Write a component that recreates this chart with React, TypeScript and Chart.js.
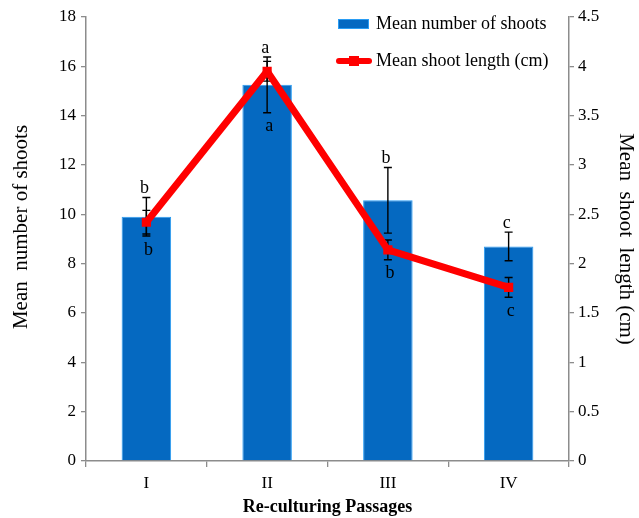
import React, { useEffect, useRef } from 'react';
import { Chart, registerables } from 'chart.js';

Chart.register(...registerables);

const categories = ['I', 'II', 'III', 'IV'];
const meanShoots = [9.9, 15.25, 10.57, 8.7];
const shootsError = [0.78, 1.13, 1.33, 0.58];
const shootsLetters = ['b', 'a', 'b', 'c'];
const meanLength = [2.42, 3.95, 2.14, 1.76];
const lengthError = [0.12, 0.1, 0.1, 0.1];
const lengthLetters = ['b', 'a', 'b', 'c'];
const shootsLabel = 'Mean number of shoots';
const lengthLabel = 'Mean shoot length (cm)';
const leftTitle = 'Mean  number of shoots';
const rightTitle = 'Mean  shoot  length (cm)';
const xTitle = 'Re-culturing Passages';

const SERIF = '"Liberation Serif", "Times New Roman", "DejaVu Serif", serif';
const BAR_FILL = '#0569c1';
const BAR_BORDER = '#2a9df4';
const LINE_RED = '#ff0000';
const AXIS_GREY = '#8c8c8c';

const errorBarPlugin = {
  id: 'errorBars',
  afterDatasetDraw(chart: any, args: any) {
    if (args.index !== 0) return;
    const { ctx } = chart;
    const xs = chart.scales.x;
    const yl = chart.scales.y;
    const yr = chart.scales.y1;
    const cap = 4;
    const drawErr = (cx: number, yTop: number, yBot: number) => {
      ctx.beginPath();
      ctx.moveTo(cx, yTop);
      ctx.lineTo(cx, yBot);
      ctx.moveTo(cx - cap, yTop);
      ctx.lineTo(cx + cap, yTop);
      ctx.moveTo(cx - cap, yBot);
      ctx.lineTo(cx + cap, yBot);
      ctx.stroke();
    };
    ctx.save();
    ctx.strokeStyle = '#000';
    ctx.lineWidth = 1.4;
    categories.forEach((_, i) => {
      const cx = xs.getPixelForValue(i);
      drawErr(cx, yl.getPixelForValue(meanShoots[i] + shootsError[i]), yl.getPixelForValue(meanShoots[i] - shootsError[i]));
      drawErr(cx, yr.getPixelForValue(meanLength[i] + lengthError[i]), yr.getPixelForValue(meanLength[i] - lengthError[i]));
    });
    ctx.restore();
  },
};

const lettersPlugin = {
  id: 'letters',
  afterDatasetsDraw(chart: any) {
    const { ctx } = chart;
    const xs = chart.scales.x;
    const yl = chart.scales.y;
    const yr = chart.scales.y1;
    ctx.save();
    ctx.fillStyle = '#000';
    ctx.font = `18px ${SERIF}`;
    ctx.textAlign = 'center';
    ctx.textBaseline = 'middle';
    categories.forEach((_, i) => {
      const cx = xs.getPixelForValue(i);
      const top = Math.min(
        yl.getPixelForValue(meanShoots[i] + shootsError[i]),
        yr.getPixelForValue(meanLength[i] + lengthError[i])
      );
      const bot = Math.max(
        yl.getPixelForValue(meanShoots[i] - shootsError[i]),
        yr.getPixelForValue(meanLength[i] - lengthError[i])
      );
      ctx.fillText(shootsLetters[i], cx - 2, top - 9);
      ctx.fillText(lengthLetters[i], cx + 2, bot + 14);
    });
    ctx.restore();
  },
};

const titlesPlugin = {
  id: 'axisTitles',
  afterDraw(chart: any) {
    const { ctx, chartArea } = chart;
    const midY = (chartArea.top + chartArea.bottom) / 2;
    ctx.save();
    ctx.fillStyle = '#000';
    ctx.font = `21px ${SERIF}`;
    ctx.textAlign = 'center';
    ctx.textBaseline = 'middle';
    ctx.translate(21, midY - 12);
    ctx.rotate(-Math.PI / 2);
    ctx.fillText(leftTitle, 0, 0);
    ctx.restore();

    ctx.save();
    ctx.fillStyle = '#000';
    ctx.font = `21px ${SERIF}`;
    ctx.textAlign = 'center';
    ctx.textBaseline = 'middle';
    ctx.translate(626, midY);
    ctx.rotate(Math.PI / 2);
    ctx.fillText(rightTitle, 0, 0);
    ctx.restore();
  },
};

const legendPlugin = {
  id: 'customLegend',
  afterDraw(chart: any) {
    const { ctx, chartArea } = chart;
    const r = chartArea.right;
    const t = chartArea.top;
    ctx.save();
    const y1 = t + 7;
    ctx.fillStyle = BAR_FILL;
    ctx.fillRect(r - 231, y1 - 5, 31, 10);
    ctx.strokeStyle = BAR_BORDER;
    ctx.lineWidth = 1;
    ctx.strokeRect(r - 231 + 0.5, y1 - 5 + 0.5, 30, 9);
    const y2 = t + 44;
    ctx.strokeStyle = LINE_RED;
    ctx.lineWidth = 6;
    ctx.lineCap = 'round';
    ctx.beginPath();
    ctx.moveTo(r - 230, y2);
    ctx.lineTo(r - 200, y2);
    ctx.stroke();
    ctx.fillStyle = LINE_RED;
    ctx.fillRect(r - 220, y2 - 5, 10, 10);
    ctx.fillStyle = '#000';
    ctx.font = `18px ${SERIF}`;
    ctx.textAlign = 'left';
    ctx.textBaseline = 'middle';
    ctx.fillText(shootsLabel, r - 193, y1);
    ctx.fillText(lengthLabel, r - 193, y2);
    ctx.restore();
  },
};

export default function App() {
  const canvasRef = useRef<HTMLCanvasElement | null>(null);

  useEffect(() => {
    document.body.style.margin = '0';
    const canvas = canvasRef.current;
    if (!canvas) return;
    const chart = new Chart(canvas, {
      type: 'bar',
      data: {
        labels: categories,
        datasets: [
          {
            type: 'bar',
            label: shootsLabel,
            data: meanShoots,
            backgroundColor: BAR_FILL,
            borderColor: BAR_BORDER,
            borderWidth: 1,
            barPercentage: 0.41,
            categoryPercentage: 1,
            yAxisID: 'y',
            order: 1,
          },
          {
            type: 'line',
            label: lengthLabel,
            data: meanLength,
            borderColor: LINE_RED,
            backgroundColor: LINE_RED,
            borderWidth: 7,
            borderJoinStyle: 'round',
            pointStyle: 'rect',
            pointRadius: 6.5,
            pointBorderWidth: 0,
            pointBackgroundColor: LINE_RED,
            yAxisID: 'y1',
            order: 0,
          },
        ],
      } as any,
      options: {
        responsive: false,
        maintainAspectRatio: false,
        animation: false,
        devicePixelRatio: 1,
        layout: { padding: { top: 17, left: 0, right: 0, bottom: 0 } },
        plugins: {
          legend: { display: false },
          tooltip: { enabled: false },
        },
        scales: {
          x: {
            offset: true,
            grid: {
              display: true,
              offset: true,
              drawOnChartArea: false,
              drawTicks: true,
              tickLength: 6,
              color: AXIS_GREY,
              lineWidth: 1.3,
            },
            border: { display: true, color: AXIS_GREY, width: 1.5 },
            ticks: {
              color: '#000',
              font: { family: SERIF, size: 17 },
              padding: 6,
              maxRotation: 0,
            },
            title: {
              display: true,
              text: xTitle,
              color: '#000',
              font: { family: SERIF, size: 18, weight: 'bold' },
              padding: { top: 0, bottom: 0 },
            },
            afterFit(scale: any) {
              scale.height = 57;
            },
          },
          y: {
            position: 'left',
            min: 0,
            max: 18,
            ticks: {
              stepSize: 2,
              color: '#000',
              font: { family: SERIF, size: 17 },
              padding: 5,
            },
            grid: {
              display: true,
              drawOnChartArea: false,
              drawTicks: true,
              tickLength: 5,
              color: AXIS_GREY,
              lineWidth: 1.3,
            },
            border: { display: true, color: AXIS_GREY, width: 1.5 },
            afterFit(scale: any) {
              scale.width = 86;
            },
          },
          y1: {
            position: 'right',
            min: 0,
            max: 4.5,
            ticks: {
              stepSize: 0.5,
              color: '#000',
              font: { family: SERIF, size: 17 },
              padding: 4,
              callback: (v: any) => String(Number(v)),
            },
            grid: {
              display: true,
              drawOnChartArea: false,
              drawTicks: true,
              tickLength: 5,
              color: AXIS_GREY,
              lineWidth: 1.3,
            },
            border: { display: true, color: AXIS_GREY, width: 1.5 },
            afterFit(scale: any) {
              scale.width = 70;
            },
          },
        },
      } as any,
      plugins: [errorBarPlugin, lettersPlugin, titlesPlugin, legendPlugin],
    });
    return () => chart.destroy();
  }, []);

  return (
    <div style={{ width: 639, height: 518 }}>
      <canvas ref={canvasRef} width={639} height={518} style={{ display: 'block' }} />
    </div>
  );
}
